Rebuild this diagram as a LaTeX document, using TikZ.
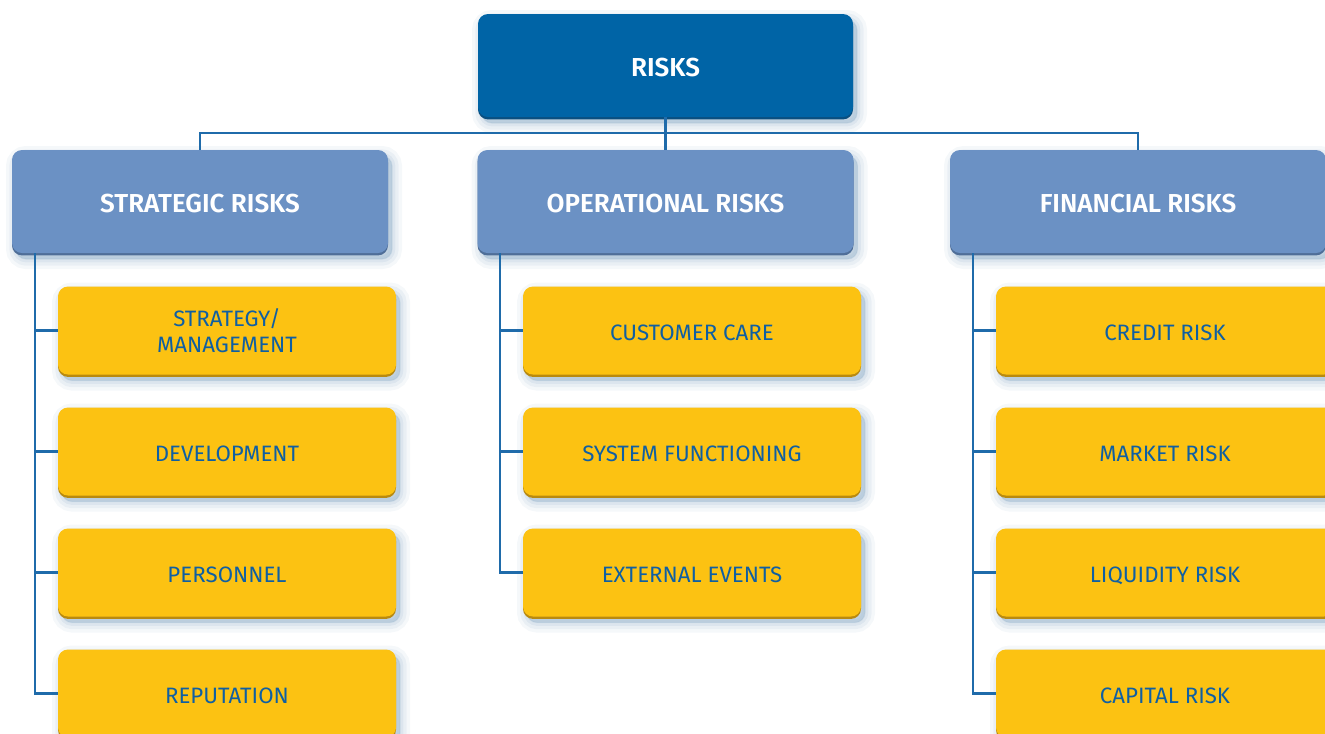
\documentclass[tikz,border=0pt]{standalone}
\usepackage{fontspec}
\setmainfont{Fira Sans}[BoldFont={Fira Sans SemiBold}]
\definecolor{topblue}{HTML}{0064A6}
\definecolor{topblueD}{HTML}{0A4F80}
\definecolor{midblue}{HTML}{6B91C4}
\definecolor{midblueD}{HTML}{4F6E98}
\definecolor{ylw}{HTML}{FCC212}
\definecolor{ylwD}{HTML}{B98A10}
\definecolor{linec}{HTML}{1F6BAA}
\definecolor{txtblue}{HTML}{0F5FA3}
\definecolor{shadc}{HTML}{9DB8CF}
\tikzset{
  shadowlayer/.style args={#1/#2}{preaction={draw=shadc, fill=shadc, line width=#1, opacity=#2,
      transform canvas={xshift=3pt, yshift=-4.5pt}}},
  boxbase/.style={rounded corners=7.5pt, inner sep=0pt, align=center, text depth=0pt,
    shadowlayer=15pt/0.10, shadowlayer=10pt/0.13, shadowlayer=5pt/0.18, shadowlayer=1pt/0.25},
  rootbox/.style={boxbase, fill=topblue, minimum width=281.25pt, minimum height=77.25pt,
    preaction={fill=topblueD, transform canvas={yshift=-1.8pt}}, text height=16pt,
    text=white, font=\bfseries\fontsize{19.5}{23}\selectfont},
  catbox/.style={boxbase, fill=midblue, minimum width=282pt, minimum height=77.25pt,
    preaction={fill=midblueD, transform canvas={yshift=-1.8pt}}, text height=17pt,
    text=white, font=\bfseries\fontsize{19.5}{23}\selectfont},
  itembox/.style={boxbase, fill=ylw, minimum width=253.5pt, minimum height=66pt,
    preaction={fill=ylwD, transform canvas={yshift=-1.8pt}}, text height=14.5pt,
    text=txtblue, font=\fontsize{16.7}{20}\selectfont},
  conn/.style={draw=linec, line width=1.6pt},
}
\begin{document}
\begin{tikzpicture}[x=0.75pt, y=-0.75pt]
\useasboundingbox (0,0) rectangle (1325,733);
% root
\node[rootbox] (risks) at (665.5,65.5) {RISKS};
% categories
\node[catbox] (strat) at (200,201.5) {STRATEGIC RISKS};
\node[catbox] (oper) at (665.5,201.5) {OPERATIONAL RISKS};
\node[catbox] (fin) at (1138,201.5) {FINANCIAL RISKS};
% junction coordinates
\coordinate (jroot) at (665.5,133);
% items
\node[itembox, text height={}, text depth={}] (s1) at (227,330.5) {STRATEGY/\\MANAGEMENT};
\node[itembox] (s2) at (227,451.5) {DEVELOPMENT};
\node[itembox] (s3) at (227,572.5) {PERSONNEL};
\node[itembox] (s4) at (227,693.5) {REPUTATION};
\node[itembox] (o1) at (692,330.5) {CUSTOMER CARE};
\node[itembox] (o2) at (692,451.5) {SYSTEM FUNCTIONING};
\node[itembox] (o3) at (692,572.5) {EXTERNAL EVENTS};
\node[itembox] (f1) at (1165,330.5) {CREDIT RISK};
\node[itembox] (f2) at (1165,451.5) {MARKET RISK};
\node[itembox] (f3) at (1165,572.5) {LIQUIDITY RISK};
\node[itembox] (f4) at (1165,693.5) {CAPITAL RISK};
% connectors top
\draw[conn] (risks.south) -- (oper.north);
\draw[conn] (strat.north) |- (jroot) -| (fin.north);
% trunks
\draw[conn] (strat.south west) ++(23,0) coordinate (ts) |- (s4.west);
\draw[conn] (ts |- s1.west) -- (s1.west);
\draw[conn] (ts |- s2.west) -- (s2.west);
\draw[conn] (ts |- s3.west) -- (s3.west);
\draw[conn] (oper.south west) ++(23,0) coordinate (to) |- (o3.west);
\draw[conn] (to |- o1.west) -- (o1.west);
\draw[conn] (to |- o2.west) -- (o2.west);
\draw[conn] (fin.south west) ++(23,0) coordinate (tf) |- (f4.west);
\draw[conn] (tf |- f1.west) -- (f1.west);
\draw[conn] (tf |- f2.west) -- (f2.west);
\draw[conn] (tf |- f3.west) -- (f3.west);
\end{tikzpicture}
\end{document}
